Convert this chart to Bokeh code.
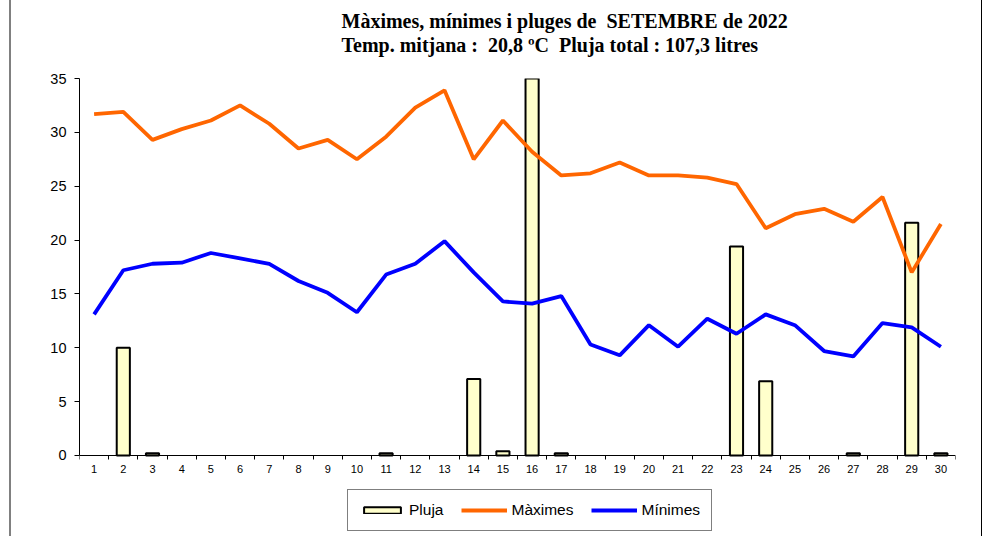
from bokeh.plotting import figure
from bokeh.models import FixedTicker, Title, Legend, LegendItem, ColumnDataSource
from bokeh.embed import file_html
from bokeh.resources import INLINE

days = list(range(1, 31))
maximes = [31.7, 31.9, 29.3, 30.3, 31.1, 32.5, 30.8, 28.5, 29.3, 27.5,
           29.6, 32.3, 33.9, 27.5, 31.1, 28.2, 26.0, 26.2, 27.2, 26.0,
           26.0, 25.8, 25.2, 21.1, 22.4, 22.9, 21.7, 24.0, 17.0, 21.5]
minimes = [13.1, 17.2, 17.8, 17.9, 18.8, 18.3, 17.8, 16.2, 15.1, 13.3,
           16.8, 17.8, 19.9, 17.0, 14.3, 14.1, 14.8, 10.3, 9.3, 12.1,
           10.1, 12.7, 11.3, 13.1, 12.1, 9.7, 9.2, 12.3, 11.9, 10.1]
pluja = [0.0, 10.0, 0.2, 0.0, 0.0, 0.0, 0.0, 0.0, 0.0, 0.0,
         0.2, 0.0, 0.0, 7.1, 0.4, 40.9, 0.2, 0.0, 0.0, 0.0,
         0.0, 0.0, 19.4, 6.9, 0.0, 0.0, 0.2, 0.0, 21.6, 0.2]
y_ticks = [0, 5, 10, 15, 20, 25, 30, 35]
title1 = "Màximes, mínimes i pluges de\u00a0 SETEMBRE de 2022"
title2 = "Temp. mitjana :\u00a0 20,8 ºC\u00a0 Pluja total : 107,3 litres"

src = ColumnDataSource(dict(day=days, maxt=maximes, mint=minimes))
rain_days = [d for d, r in zip(days, pluja) if r > 0]
rain_vals = [r for r in pluja if r > 0]
rsrc = ColumnDataSource(dict(day=rain_days, rain=rain_vals))

# canvas starts at page x=11 (9px margin + 2px border); frame 79..955 x, 78..536 y
p = figure(width=973, height=536, x_range=(0.5, 30.5), y_range=(-7.52, 35),
           output_backend="svg", toolbar_location=None,
           min_border_left=68, min_border_right=29,
           min_border_top=78, min_border_bottom=0)
p.styles = {"margin-left": "9px",
            "border-left": "2px solid #808080",
            "border-right": "1px solid #000000"}
p.outline_line_color = None
p.xgrid.grid_line_color = None
p.ygrid.grid_line_color = None
p.background_fill_color = "white"
p.border_fill_color = "white"

bars = p.vbar(x="day", top="rain", width=0.45, source=rsrc,
              fill_color="#FFFFCC", line_color="black", line_width=2)
lmax = p.line(x="day", y="maxt", source=src, line_color="#FF6600", line_width=3.8)
lmin = p.line(x="day", y="mint", source=src, line_color="#0000FF", line_width=3.8)

xa = p.xaxis[0]
xa.fixed_location = 0
xa.ticker = FixedTicker(ticks=days, minor_ticks=[d - 0.5 for d in days] + [days[-1] + 0.5])
xa.major_tick_out = 0
xa.major_tick_in = 0
xa.minor_tick_out = 4
xa.minor_tick_in = 0
xa.minor_tick_line_color = "black"
xa.axis_line_color = "black"
xa.major_label_text_font = "Liberation Sans"
xa.major_label_text_font_size = "11px"
xa.major_label_text_color = "black"
xa.major_label_standoff = 6

ya = p.yaxis[0]
ya.bounds = (0, 35)
ya.ticker = FixedTicker(ticks=y_ticks, minor_ticks=[])
ya.major_tick_out = 5
ya.major_tick_in = 0
ya.major_tick_line_color = "black"
ya.axis_line_color = "black"
ya.major_label_text_font = "Liberation Sans"
ya.major_label_text_font_size = "14.5px"
ya.major_label_text_color = "black"
ya.major_label_standoff = 8

# spacer between the titles and the frame
p.add_layout(Title(text=" ", text_font_size="1px", standoff=20), "above")
for t in [title2, title1]:
    p.add_layout(Title(text=t, align="left", offset=262, standoff=0,
                       text_font="Liberation Serif", text_font_style="bold",
                       text_font_size="20px", text_color="black"), "above")

legend = Legend(items=[LegendItem(label="Pluja", renderers=[bars]),
                       LegendItem(label="Màximes", renderers=[lmax]),
                       LegendItem(label="Mínimes", renderers=[lmin])],
                orientation="horizontal", location=(268, 5),
                glyph_width=46, glyph_height=8, label_standoff=4, spacing=18,
                padding=11, margin=0,
                label_text_font="Liberation Sans", label_text_font_size="15.5px",
                label_text_color="black",
                border_line_color="black", border_line_width=1,
                background_fill_color="white", background_fill_alpha=1.0)
p.add_layout(legend, "center")

open("out.html", "w").write(file_html(p, INLINE))
